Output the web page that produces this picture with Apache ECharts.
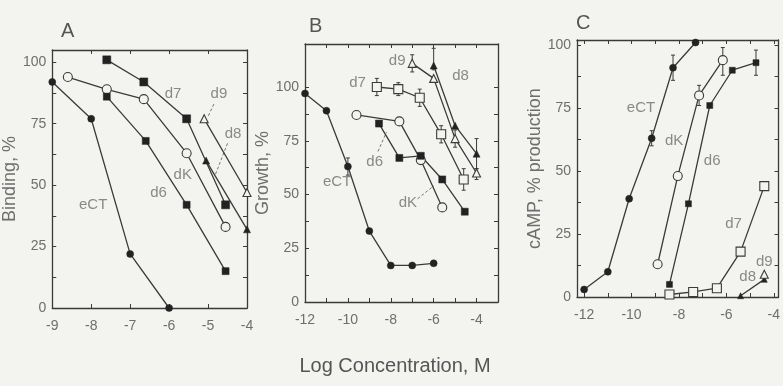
<!DOCTYPE html>
<html>
<head>
<meta charset="utf-8">
<script src="https://cdn.jsdelivr.net/npm/echarts@6/dist/echarts.min.js"></script>
<style>
  html, body { margin: 0; padding: 0; background: #f3f3f0; }
  #chart { width: 783px; height: 386px; }
</style>
</head>
<body>
<div id="chart"></div>
<script>
// three dose-response panels
const BG = '#f3f3f0';
const INK = '#3a3a3a';
const TXT = '#6e6e6e';
const FONT = 'Liberation Sans, Arial, sans-serif';

// Panel A — binding, %
const A_eCT = [[-9, 92], [-8, 77], [-7, 22], [-6, 0]];
const A_dK = [[-8.6, 94], [-7.6, 89], [-6.65, 85], [-5.55, 63], [-4.55, 33]];
const A_d6 = [[-7.6, 86], [-6.6, 68], [-5.55, 42], [-4.55, 15]];
const A_d7 = [[-7.6, 101], [-6.65, 92], [-5.55, 77], [-4.55, 42]];
const A_d8 = [[-5.05, 60], [-4.0, 32]];
const A_d9 = [[-5.1, 77], [-4.0, 47]];

// Panel B — growth, %
const B_eCT = [[-12, 97], [-11, 89], [-10, 63], [-9, 33], [-8, 17], [-7, 17], [-6, 18]];
const B_dK = [[-9.6, 87], [-7.6, 84], [-6.6, 66], [-5.6, 44]];
const B_d6 = [[-8.55, 83], [-7.6, 67], [-6.6, 68], [-5.6, 57], [-4.55, 42]];
const B_d7 = [[-8.65, 100], [-7.65, 99], [-6.65, 95], [-5.65, 78], [-4.6, 57]];
const B_d8 = [[-6, 110], [-5, 82], [-4, 69]];
const B_d9 = [[-7, 111], [-6, 104], [-5, 76], [-4, 60]];
// [x, low, high]
const B_err = [[-10, 59, 67], [-8.65, 96, 104], [-7.65, 96, 102], [-6.65, 91, 99], [-5.65, 74, 82],
  [-4.6, 52, 62], [-7, 107, 115], [-6, 108, 118], [-5, 72, 80], [-4, 62, 76], [-4, 57, 62]];

// Panel C — cAMP, % production
const C_eCT = [[-12, 3], [-11, 10], [-10.1, 39], [-9.15, 63], [-8.25, 91], [-7.3, 101]];
const C_dK = [[-8.9, 13], [-8.05, 48], [-7.15, 80], [-6.15, 94]];
const C_d6 = [[-8.4, 5], [-7.6, 37], [-6.7, 76], [-5.75, 90], [-4.75, 93]];
const C_d7 = [[-8.4, 1], [-7.4, 2], [-6.4, 3.5], [-5.4, 18], [-4.4, 44]];
const C_d8 = [[-5.4, 0.5], [-4.4, 7]];
const C_d9 = [[-4.4, 9]];
const C_err = [[-9.15, 60, 66], [-8.25, 86, 96], [-7.15, 76, 84], [-6.15, 88, 99], [-4.75, 88, 98]];

// curve labels and dashed leaders, in data units
const A_labels = [['d7', -5.9, 87], ['dK', -5.65, 54], ['d6', -6.27, 47], ['eCT', -7.95, 42], ['d9', -4.72, 87], ['d8', -4.36, 71]];
const A_leaders = [[[-4.85, 83], [-5.0, 78]], [[-4.5, 67], [-4.82, 54]]];
const B_labels = [['d9', -7.7, 112], ['d8', -4.75, 105], ['d7', -9.55, 102], ['d6', -8.75, 65], ['eCT', -10.5, 56], ['dK', -7.2, 46]];
const B_leaders = [[[-8.6, 70], [-8.2, 79]], [[-6.75, 48], [-6.0, 54]]];
const C_labels = [['eCT', -9.6, 75], ['dK', -8.2, 62], ['d6', -6.6, 54], ['d7', -5.7, 29], ['d9', -4.4, 14], ['d8', -5.1, 8]];

const grids = [
  { left: 50, top: 50, width: 197, height: 258 },
  { left: 305, top: 44, width: 193, height: 258 },
  { left: 577, top: 40, width: 202, height: 257 },
];
const xRanges = [[-9, -4], [-12, -3], [-12.3, -3.8]];
const yRanges = [[0, 105], [0, 120], [0, 102]];
const xTicks = [[-9, -8, -7, -6, -5, -4], [-12, -11, -10, -9, -8, -7, -6, -5, -4, -3], [-12, -11, -10, -9, -8, -7, -6, -5, -4]];
const xLabels = [[-9, -8, -7, -6, -5, -4], [-12, -10, -8, -6, -4], [-12, -10, -8, -6, -4]];
const yTicks = [0, 12.5, 25, 37.5, 50, 62.5, 75, 87.5, 100];
const yLabels = [0, 25, 50, 75, 100];
const yNames = ['Binding, %', 'Growth, %', 'cAMP, % production'];
const nameGaps = [24, 26, 28];

const xAxis = [], yAxis = [];
grids.forEach((g, i) => {
  const common = {
    gridIndex: i, type: 'value',
    axisLine: { show: true, onZero: false, lineStyle: { color: INK, width: 1.3 } },
    splitLine: { show: false },
  };
  ['bottom', 'top'].forEach((pos) => xAxis.push({
    ...common, position: pos, min: xRanges[i][0], max: xRanges[i][1],
    axisTick: { inside: true, length: 4, customValues: xTicks[i], lineStyle: { color: INK } },
    axisLabel: pos === 'bottom'
      ? { customValues: xLabels[i], color: TXT, fontFamily: FONT, fontSize: 14, margin: 11 }
      : { show: false },
  }));
  ['left', 'right'].forEach((pos) => yAxis.push({
    ...common, position: pos, min: yRanges[i][0], max: yRanges[i][1],
    axisTick: { inside: true, length: 4, customValues: yTicks, lineStyle: { color: INK } },
    axisLabel: pos === 'left'
      ? { customValues: yLabels, color: TXT, fontFamily: FONT, fontSize: 14, margin: 6 }
      : { show: false },
    name: pos === 'left' ? yNames[i] : '',
    nameLocation: 'middle', nameGap: nameGaps[i],
    nameTextStyle: { color: TXT, fontFamily: FONT, fontSize: 18 },
  }));
});

// marker styles: eCT filled circle, dK open circle, d6 filled square,
// d7 filled (A) / open (B, C) square, d8 filled triangle, d9 open triangle
function curve(gi, data, symbol, open, size) {
  return {
    type: 'line', xAxisIndex: gi * 2, yAxisIndex: gi * 2, data,
    symbol, symbolSize: size, showSymbol: true, z: 3,
    lineStyle: { color: INK, width: 1.3 },
    itemStyle: open
      ? { color: BG, borderColor: INK, borderWidth: 1.1 }
      : { color: '#222', borderColor: '#222', borderWidth: 0.5 },
    emphasis: { disabled: true }, animation: false,
  };
}
function errors(gi, data) {
  return {
    type: 'custom', xAxisIndex: gi * 2, yAxisIndex: gi * 2, data, z: 2,
    encode: { x: 0, y: [1, 2] }, animation: false,
    renderItem: (params, api) => {
      const lo = api.coord([api.value(0), api.value(1)]);
      const hi = api.coord([api.value(0), api.value(2)]);
      const st = { stroke: INK, lineWidth: 1 };
      return { type: 'group', children: [
        { type: 'line', shape: { x1: lo[0], y1: lo[1], x2: hi[0], y2: hi[1] }, style: st },
        { type: 'line', shape: { x1: lo[0] - 2, y1: lo[1], x2: lo[0] + 2, y2: lo[1] }, style: st },
        { type: 'line', shape: { x1: hi[0] - 2, y1: hi[1], x2: hi[0] + 2, y2: hi[1] }, style: st },
      ] };
    },
  };
}
function labels(gi, rows) {
  return {
    type: 'scatter', xAxisIndex: gi * 2, yAxisIndex: gi * 2, symbolSize: 0, z: 4,
    data: rows.map((r) => ({ name: r[0], value: [r[1], r[2]] })),
    label: { show: true, position: 'inside', formatter: '{b}', color: TXT, fontFamily: FONT, fontSize: 15 },
    emphasis: { disabled: true }, silent: true, animation: false,
  };
}
function leaders(gi, segs) {
  return segs.map((s) => ({
    type: 'line', xAxisIndex: gi * 2, yAxisIndex: gi * 2, data: s, showSymbol: false, z: 1,
    lineStyle: { color: '#777', width: 1, type: [3, 2] }, silent: true, animation: false,
  }));
}

const series = [
  curve(0, A_eCT, 'circle', false, 7),
  curve(0, A_dK, 'circle', true, 9),
  curve(0, A_d6, 'rect', false, 7),
  curve(0, A_d7, 'rect', false, 8),
  curve(0, A_d8, 'triangle', false, 7),
  curve(0, A_d9, 'triangle', true, 8),
  labels(0, A_labels), ...leaders(0, A_leaders),

  errors(1, B_err),
  curve(1, B_eCT, 'circle', false, 7),
  curve(1, B_dK, 'circle', true, 9),
  curve(1, B_d6, 'rect', false, 7),
  curve(1, B_d7, 'rect', true, 9),
  curve(1, B_d8, 'triangle', false, 7),
  curve(1, B_d9, 'triangle', true, 8),
  labels(1, B_labels), ...leaders(1, B_leaders),

  errors(2, C_err),
  curve(2, C_eCT, 'circle', false, 7),
  curve(2, C_dK, 'circle', true, 9),
  curve(2, C_d6, 'rect', false, 6),
  curve(2, C_d7, 'rect', true, 9),
  curve(2, C_d8, 'triangle', false, 6),
  curve(2, C_d9, 'triangle', true, 8),
  labels(2, C_labels),
];

const chart = echarts.init(document.getElementById('chart'), null, { renderer: 'canvas' });
chart.setOption({
  backgroundColor: BG,
  animation: false,
  title: [
    { text: 'A', left: 56, top: 16 },
    { text: 'B', left: 304, top: 11 },
    { text: 'C', left: 571, top: 8 },
  ].map((t) => ({ ...t, textStyle: { color: '#555', fontFamily: FONT, fontSize: 20, fontWeight: 'normal' } })),
  grid: grids,
  xAxis, yAxis,
  graphic: [{
    type: 'text', x: 395, y: 366,
    style: { text: 'Log Concentration, M', fill: '#555', font: '20px ' + FONT, textAlign: 'center', textVerticalAlign: 'middle' },
  }],
  series,
});
</script>
</body>
</html>
